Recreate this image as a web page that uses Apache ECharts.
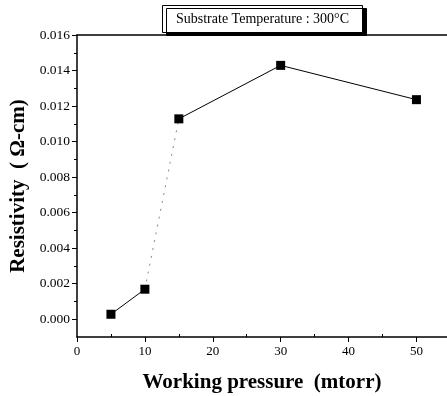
<!DOCTYPE html>
<html>
<head>
<meta charset="utf-8">
<script src="https://cdn.jsdelivr.net/npm/echarts@6/dist/echarts.min.js"></script>
<style>
  html, body { margin: 0; padding: 0; background: #fff; }
  #chart { width: 447px; height: 396px; }
</style>
</head>
<body>
<div id="chart"></div>
<script>
const pressure = [5, 10, 15, 30, 50]
const resistivity = [0.00028, 0.00169, 0.01128, 0.01429, 0.01236]
const xTicks = [0, 10, 20, 30, 40, 50]
const xMinorTicks = [5, 15, 25, 35, 45]
const yTicks = [0, 0.002, 0.004, 0.006, 0.008, 0.010, 0.012, 0.014, 0.016]
const yMinorTicks = [0.001, 0.003, 0.005, 0.007, 0.009, 0.011, 0.013, 0.015]

const serif = '"Liberation Serif", "DejaVu Serif", serif'
const points = pressure.map((p, i) => [p, resistivity[i]])

const chart = echarts.init(document.getElementById('chart'))

const xBase = { type: 'value', min: 0, max: 54.5, splitLine: { show: false } }
const yBase = { type: 'value', min: -0.001, max: 0.016, splitLine: { show: false } }
const black = { color: '#000', width: 1.5 }

chart.setOption({
  animation: false,
  title: {
    text: 'Substrate Temperature : 300°C',
    left: 162,
    top: 5,
    padding: [7, 14, 7, 14],
    backgroundColor: '#fff',
    borderColor: '#000',
    borderWidth: 1,
    shadowColor: '#000',
    shadowOffsetX: 4,
    shadowOffsetY: 3,
    shadowBlur: 0,
    textStyle: { fontFamily: serif, fontSize: 14, fontWeight: 'normal', color: '#000' }
  },
  grid: { left: 77, right: 0, top: 35, bottom: 59, outerBoundsMode: 'none', containLabel: false },
  xAxis: [
    {
      ...xBase,
      name: 'Working pressure  (mtorr)',
      nameLocation: 'middle',
      nameGap: 35,
      nameTextStyle: { fontFamily: serif, fontSize: 21, fontWeight: 'bold', color: '#000' },
      axisLine: { onZero: false, lineStyle: black },
      axisTick: { customValues: xTicks, length: 5, lineStyle: { color: '#000' } },
      axisLabel: {
        customValues: xTicks, margin: 8,
        fontFamily: serif, fontSize: 13, color: '#000'
      }
    },
    {
      ...xBase,
      position: 'bottom',
      axisLine: { show: false, onZero: false },
      axisTick: { customValues: xMinorTicks, inside: true, length: 3, lineStyle: { color: '#000' } },
      axisLabel: { show: false }
    },
    {
      ...xBase,
      position: 'top',
      axisLine: { show: true, onZero: false, lineStyle: black },
      axisTick: { show: false },
      axisLabel: { show: false }
    }
  ],
  yAxis: [
    {
      ...yBase,
      name: 'Resistivity  ( Ω-cm)',
      nameLocation: 'middle',
      nameGap: 46,
      nameTextStyle: { fontFamily: serif, fontSize: 21, fontWeight: 'bold', color: '#000' },
      axisLine: { show: true, onZero: false, lineStyle: black },
      axisTick: { show: true, customValues: yTicks, length: 5, lineStyle: { color: '#000' } },
      axisLabel: {
        customValues: yTicks, margin: 7,
        fontFamily: serif, fontSize: 13.5, color: '#000',
        formatter: (v) => v.toFixed(3)
      }
    },
    {
      ...yBase,
      position: 'left',
      axisLine: { show: false, onZero: false },
      axisTick: { show: true, customValues: yMinorTicks, length: 3, lineStyle: { color: '#000' } },
      axisLabel: { show: false }
    }
  ],
  series: [
    {
      type: 'line',
      data: points.slice(0, 2),
      symbol: 'none',
      lineStyle: { color: '#000', width: 1 }
    },
    {
      type: 'line',
      data: points.slice(1, 3),
      symbol: 'none',
      lineStyle: { color: '#888', width: 1, type: [2, 6] }
    },
    {
      type: 'line',
      data: points.slice(2),
      symbol: 'none',
      lineStyle: { color: '#000', width: 1 }
    },
    {
      type: 'scatter',
      data: points,
      symbol: 'rect',
      symbolSize: 9,
      itemStyle: { color: '#000', opacity: 1 },
      z: 5
    }
  ]
})
</script>
</body>
</html>
